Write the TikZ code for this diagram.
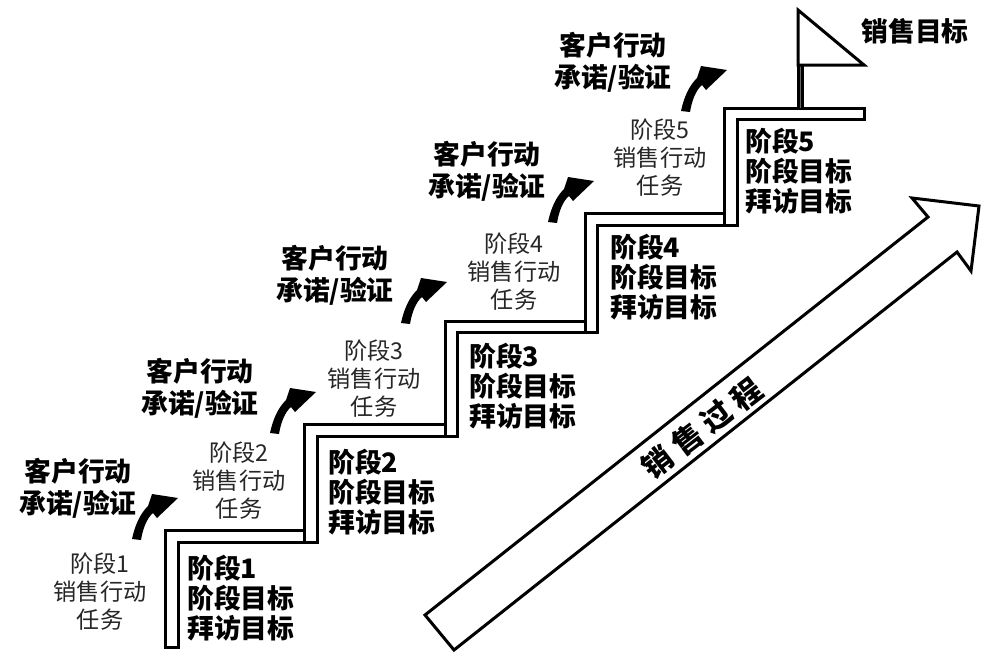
\documentclass[tikz,border=0pt]{standalone}
\usepackage{fontspec}
\setmainfont{Noto Sans CJK SC}
\tikzset{x=1pt,y=-1pt,
 stairline/.style={draw=black,line width=3pt,fill=white,line join=miter},
 goal/.style={font=\fontsize{26.8}{30}\selectfont\bfseries,align=left,anchor=west,inner sep=0pt},
 task/.style={font=\fontsize{23.2}{28}\selectfont\color{black!85},align=center,inner sep=0pt},
 act/.style={font=\fontsize{26.8}{32}\selectfont\bfseries,align=center,inner sep=0pt},
 curve/.style={fill=black,draw=none}}
\begin{document}
\begin{tikzpicture}
\useasboundingbox (0,0) rectangle (1000,662);
\fill[white] (0,0) rectangle (1000,662);
% stairs
\draw[stairline] (165,647)--(165,530)--(304,530)--(304,542)--(178,542)--(178,647)--cycle;
\draw[stairline] (304,542)--(304,424)--(445,424)--(445,436)--(317,436)--(317,542)--cycle;
\draw[stairline] (445,436)--(445,321)--(585,321)--(585,332)--(457,332)--(457,436)--cycle;
\draw[stairline] (585,332)--(585,213)--(724,213)--(724,225)--(597,225)--(597,332)--cycle;
\draw[stairline] (724,225)--(724,108)--(864,108)--(864,119)--(737,119)--(737,225)--cycle;
% flag
\fill[black!60] (798,65) rectangle (802,108);
\draw[stairline] (798,65)--(798,108);
\draw[stairline] (802,65)--(802,108);
\draw[stairline] (798,10)--(864,65)--(798,65)--cycle;
\node[act] (goal) at (915,31) {销售目标};
% big arrow
\draw[stairline] (425,615)--(928,217)--(912,198)--(979,206)--(971,271)--(957,252)--(454,650)--cycle;
\node[font=\fontsize{30}{32}\selectfont\bfseries,rotate=37.5,inner sep=0pt] (proc) at (702,428) {销\hspace{7.4pt}售\hspace{7.4pt}过\hspace{7.4pt}程};
% goals
\node[goal] (g1) at (187,598) {阶段1\\阶段目标\\拜访目标};
\node[goal] (g2) at (328,492) {阶段2\\阶段目标\\拜访目标};
\node[goal] (g3) at (469,386) {阶段3\\阶段目标\\拜访目标};
\node[goal] (g4) at (610,277) {阶段4\\阶段目标\\拜访目标};
\node[goal] (g5) at (745,171) {阶段5\\阶段目标\\拜访目标};
% tasks
\node[task] (t1) at (100,592) {阶段1\\销售行动\\任务};
\node[task] (t2) at (239,481) {阶段2\\销售行动\\任务};
\node[task] (t3) at (374,379) {阶段3\\销售行动\\任务};
\node[task] (t4) at (514,272) {阶段4\\销售行动\\任务};
\node[task] (t5) at (660,158) {阶段5\\销售行动\\任务};
% actions
\node[act] (a1) at (78,488) {客户行动\\承诺/验证};
\node[act] (a2) at (200,388) {客户行动\\承诺/验证};
\node[act] (a3) at (335,275) {客户行动\\承诺/验证};
\node[act] (a4) at (487,171) {客户行动\\承诺/验证};
\node[act] (a5) at (613,62) {客户行动\\承诺/验证};
% curved arrows
\foreach \x/\y in {132/539,270/433,401/323,548/222,681/111}{
 \fill[curve,shift={(\x,\y)}] (0,0) .. controls (3,-14) and (8,-25) .. (16,-33)
  -- (20,-45) -- (46,-41) -- (25,-21) -- (21,-26)
  .. controls (15,-21) and (11,-11) .. (9,1) -- cycle;
}
\end{tikzpicture}
\end{document}
